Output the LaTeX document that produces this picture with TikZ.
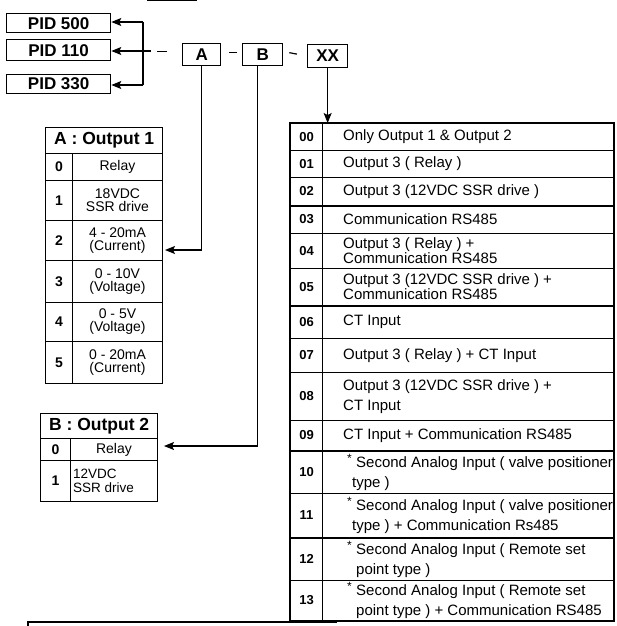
\documentclass[tikz,border=0pt]{standalone}
\usepackage{fontspec}
\setmainfont{Liberation Sans}
\usetikzlibrary{arrows.meta}
\newcommand\arow[5]{%
  \node[cell, minimum width=27pt, minimum height=#3pt, anchor=north west, font=\fontsize{14}{14}\selectfont\bfseries] (na#1) at (45,#2) {#4};
  \node[cell, minimum width=90pt, minimum height=#3pt, anchor=north west, align=center, font=\fontsize{14}{13}\selectfont] (ta#1) at (72,#2) {#5};}
\newcommand\xrow[5]{%
  \node[cell, minimum width=32pt, minimum height=#3pt, anchor=north west, font=\fontsize{13}{13}\selectfont\bfseries] (xn#1) at (290,#2) {#4};
  \node[cell, minimum width=291pt, minimum height=#3pt, anchor=north west] (xd#1) at (322,#2) {};
  \node[txt, anchor=west] (xt#1) at ([xshift=21pt]xd#1.west) {#5};}
\newcommand\starmark{\makebox[0pt][l]{\raisebox{5pt}{\fontsize{12}{12}\selectfont *}}}
\begin{document}
\begin{tikzpicture}[x=1pt,y=-1pt,
  box/.style={draw, line width=1.3pt, inner sep=0pt, font=\fontsize{17}{17}\selectfont\bfseries},
  cell/.style={draw, line width=1pt, inner sep=0pt},
  title/.style={draw, line width=1.3pt, inner sep=0pt, font=\fontsize{17.5}{17.5}\selectfont\bfseries},
  txt/.style={inner sep=0pt, align=left, font=\fontsize{15}{12.5}\selectfont},
  conn/.style={line width=1.2pt},
  arr/.style={line width=1.2pt, -{Stealth[length=10pt,width=8pt,inset=2pt]}},
  thickline/.style={line width=2.2pt}]
\useasboundingbox (0,0) rectangle (617,626);

% model boxes
\node[box, minimum width=104pt, minimum height=19pt, anchor=north west] (p500) at (6,13) {PID 500};
\node[box, minimum width=104pt, minimum height=21pt, anchor=north west] (p110) at (6,39) {PID 110};
\node[box, minimum width=104pt, minimum height=19pt, anchor=north west] (p330) at (6,74) {PID 330};

\coordinate (bus) at (143,22);
\coordinate (busb) at (143,85);
\coordinate (mid) at (151,51);
\draw[conn] (bus) -- (busb);
\draw[arr] (bus) -- (p500.east |- bus);
\draw[arr] (mid) -- (p110.east |- mid);
\draw[arr] (busb) -- (p330.east |- busb);

% code boxes
\node[box, minimum width=38pt, minimum height=22pt, anchor=north west] (a) at (182,43) {A};
\node[box, minimum width=40pt, minimum height=22pt, anchor=north west] (b) at (242,43) {B};
\node[box, minimum width=40pt, minimum height=23pt, anchor=north west] (xx) at (307,44) {XX};
\draw[conn] ([xshift=-25pt,yshift=3pt]a.west) -- ([xshift=-15pt,yshift=3pt]a.west);
\draw[conn] ([xshift=8pt,yshift=2pt]a.east) -- ([xshift=-5pt,yshift=2pt]b.west);
\draw[conn] ([xshift=6pt,yshift=2pt]b.east) -- ([xshift=-10pt,yshift=2pt]xx.west);

% table A
\node[title, minimum width=117pt, minimum height=26pt, anchor=north west] (tahead) at (45,127) {A : Output 1};
\arow{0}{153}{27}{0}{Relay}
\arow{1}{180}{40}{1}{18VDC\\SSR drive}
\arow{2}{220}{40}{2}{4 - 20mA\\(Current)}
\arow{3}{260}{42}{3}{0 - 10V\\(Voltage)}
\arow{4}{302}{39}{4}{0 - 5V\\(Voltage)}
\arow{5}{341}{42}{5}{0 - 20mA\\(Current)}

% table B
\node[title, minimum width=117pt, minimum height=25pt, anchor=north west] (tbhead) at (40,413) {B : Output 2};
\node[cell, minimum width=30pt, minimum height=22pt, anchor=north west, font=\fontsize{14}{14}\selectfont\bfseries] (nb0) at (40,438) {0};
\node[cell, minimum width=87pt, minimum height=22pt, anchor=north west, font=\fontsize{14}{14}\selectfont] (tb0) at (70,438) {Relay};
\node[cell, minimum width=30pt, minimum height=41pt, anchor=north west, font=\fontsize{14}{14}\selectfont\bfseries] (nb1) at (40,460) {1};
\node[cell, minimum width=87pt, minimum height=41pt, anchor=north west] (tb1) at (70,460) {};
\node[inner sep=0pt, anchor=west, align=left, font=\fontsize{13.5}{14}\selectfont] (tb1t) at ([xshift=3pt]tb1.west) {12VDC\\SSR drive};

% table XX
\xrow{00}{123}{27}{00}{Only Output 1 \& Output 2}
\xrow{01}{150}{27}{01}{Output 3 ( Relay )}
\xrow{02}{177}{28}{02}{Output 3 (12VDC SSR drive )}
\xrow{03}{205}{28}{03}{Communication RS485}
\xrow{04}{233}{35}{04}{Output 3 ( Relay ) +\\Communication RS485}
\xrow{05}{268}{37}{05}{Output 3 (12VDC SSR drive ) +\\Communication RS485}
\xrow{06}{305}{33}{06}{CT Input}
\xrow{07}{338}{34}{07}{Output 3 ( Relay ) + CT Input}
\xrow{08}{372}{48}{08}{Output 3 (12VDC SSR drive ) +\\[5pt]CT Input}
\xrow{09}{420}{30}{09}{CT Input + Communication RS485}
\xrow{10}{450}{43}{10}{\hspace*{4pt}\starmark\hspace*{9pt}Second Analog Input ( valve positioner\\[5pt]\hspace*{9pt}type )}
\xrow{11}{493}{44}{11}{\hspace*{4pt}\starmark\hspace*{9pt}Second Analog Input ( valve positioner\\[5pt]\hspace*{9pt}type ) + Communication Rs485}
\xrow{12}{537}{43}{12}{\hspace*{4pt}\starmark\hspace*{9pt}Second Analog Input ( Remote set\\[5pt]\hspace*{13pt}point type )}
\xrow{13}{580}{40}{13}{\hspace*{4pt}\starmark\hspace*{9pt}Second Analog Input ( Remote set\\[5pt]\hspace*{13pt}point type ) + Communication RS485}
\draw[thickline] (xn00.north west) rectangle (xd13.south east);
\draw[thickline] (xn02.south west) -- (xd02.south east);
\draw[thickline] (xn05.south west) -- (xd05.south east);
\draw[thickline] (xn09.south west) -- (xd09.south east);
\draw[thickline] (xn11.south west) -- (xd11.south east);

% connectors to tables
\coordinate (aturn) at (a.south |- 0,250);
\draw[arr] (a.south) -- (aturn) -- ([xshift=2pt]ta2.east |- aturn);
\coordinate (bstart) at ([xshift=-5pt]b.south);
\coordinate (bturn) at (bstart |- 0,446);
\draw[arr] (bstart) -- (bturn) -- ([xshift=6pt]tb0.east |- bturn);
\draw[arr] (xx.south) -- (xx.south |- xd00.north);

% fragments of surrounding page
\draw[line width=1pt] (147,1) -- (197,1);
\draw[line width=1.3pt] (28,626) -- (28,622) -- (337,622);
\end{tikzpicture}
\end{document}
